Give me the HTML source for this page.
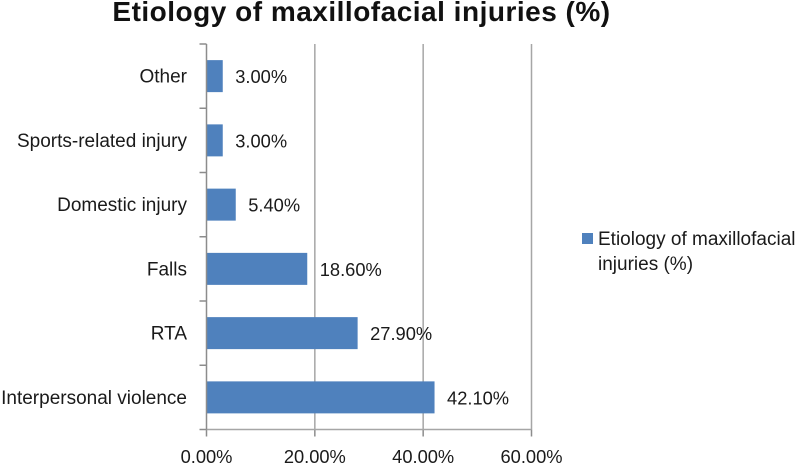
<!DOCTYPE html>
<html lang="en">
<head>
<meta charset="utf-8">
<title>Etiology of maxillofacial injuries (%)</title>
<style>
html,body{margin:0;padding:0;background:#fff;}
svg{display:block;font-family:"Liberation Sans",sans-serif;fill:#1a1a1a;}
.cat{font-size:19px;}
.num{font-size:18.3px;}
</style>
</head>
<body>
<svg id="chart" width="796" height="464" viewBox="0 0 796 464" xmlns="http://www.w3.org/2000/svg">
<rect width="796" height="464" fill="#fff"/>
<text x="361.5" y="21" text-anchor="middle" font-size="28" font-weight="700" letter-spacing="0.5" fill="#111">Etiology of maxillofacial injuries (%)</text>
<g id="grid"></g>
<g id="bars"></g>
<g id="axes"></g>
<g id="labels"></g>
<rect x="582" y="233" width="11" height="11" fill="#4f81bd"/>
<text class="cat" x="598" y="245">Etiology of maxillofacial</text>
<text class="cat" x="598" y="270">injuries (%)</text>
</svg>
<script>
const categories = ["Interpersonal violence", "RTA", "Falls", "Domestic injury", "Sports-related injury", "Other"];
const seriesValues = [42.1, 27.9, 18.6, 5.4, 3.0, 3.0];
const xTicks = [0, 20, 40, 60];

const NS = "http://www.w3.org/2000/svg";
const plot = { left: 206.5, right: 531.5, top: 44, bottom: 429.5 };
const xMax = xTicks[xTicks.length - 1];
const xScale = v => plot.left + (v / xMax) * (plot.right - plot.left);
const band = (plot.bottom - plot.top) / categories.length;
const yTop = i => plot.bottom - band * (i + 1);
const yMid = i => yTop(i) + band / 2;
const fmt = v => v.toFixed(2) + "%";

function mk(parent, tag, attrs, text) {
  const el = document.createElementNS(NS, tag);
  for (const k in attrs) el.setAttribute(k, attrs[k]);
  if (text !== undefined) el.textContent = text;
  document.getElementById(parent).appendChild(el);
  return el;
}

xTicks.forEach(t => {
  const x = xScale(t);
  if (t !== 0) {
    const g = mk("grid", "line", { x1: x, x2: x, y1: plot.top, y2: plot.bottom, stroke: "#a6a6a6", "stroke-width": 1.5 });
    
    
  }
  const tick = mk("axes", "line", { x1: x, x2: x, y1: plot.bottom, y2: plot.bottom + 7, stroke: "#8c8c8c", "stroke-width": 1.5 });
  
  
  const lab = mk("labels", "text", { class: "num", x: x, y: 463, "text-anchor": "middle" }, fmt(t));
  
  
});

const xAxis = mk("axes", "line", { x1: plot.left, x2: plot.right, y1: plot.bottom, y2: plot.bottom, stroke: "#a6a6a6", "stroke-width": 1.5 });


const yAxis = mk("axes", "line", { x1: plot.left, x2: plot.left, y1: plot.top, y2: plot.bottom, stroke: "#8c8c8c", "stroke-width": 1.5 });



for (let i = 0; i <= categories.length; i++) {
  const y = plot.bottom - band * i;
  const tick = mk("axes", "line", { x1: plot.left - 7, x2: plot.left, y1: y, y2: y, stroke: "#8c8c8c", "stroke-width": 1.5 });
  
  
}

categories.forEach((c, i) => {
  const h = 32;
  const bar = mk("bars", "rect", { x: plot.left, y: yMid(i) - h / 2, width: xScale(seriesValues[i]) - plot.left, height: h, fill: "#4f81bd" });
  
  
  const cat = mk("labels", "text", { class: "cat", x: 187, y: yMid(i) + 6.5, "text-anchor": "end" }, c);
  
  
  const val = mk("labels", "text", { class: "num", x: xScale(seriesValues[i]) + 12.5, y: yMid(i) + 7 }, fmt(seriesValues[i]));
  
  
});
</script>
</body>
</html>
